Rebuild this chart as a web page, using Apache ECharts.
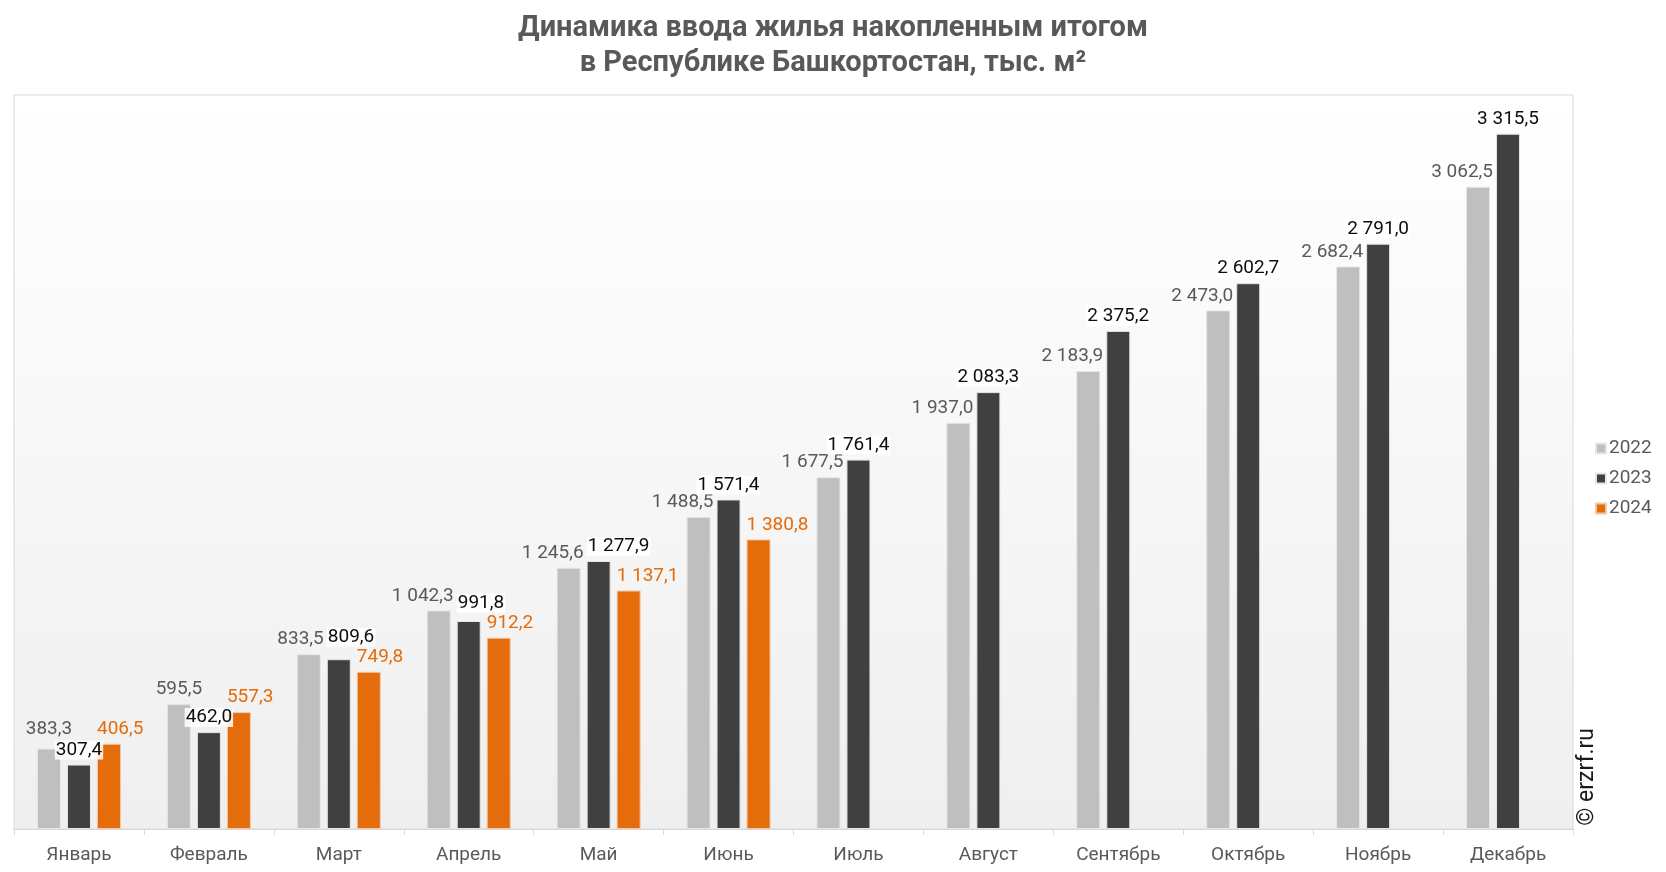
<!DOCTYPE html>
<html>
<head>
<meta charset="utf-8">
<script src="https://cdn.jsdelivr.net/npm/echarts@6/dist/echarts.min.js"></script>
<style>
  html, body { margin: 0; padding: 0; background: #fff; }
  #chart { width: 1666px; height: 872px; }
</style>
</head>
<body>
<div id="chart"></div>
<script>
// месяцы
var months = ['Январь', 'Февраль', 'Март', 'Апрель', 'Май', 'Июнь', 'Июль', 'Август', 'Сентябрь', 'Октябрь', 'Ноябрь', 'Декабрь']
// ввод жилья накопленным итогом, тыс. м²
var y2022 = [383.3, 595.5, 833.5, 1042.3, 1245.6, 1488.5, 1677.5, 1937.0, 2183.9, 2473.0, 2682.4, 3062.5]
var y2023 = [307.4, 462.0, 809.6, 991.8, 1277.9, 1571.4, 1761.4, 2083.3, 2375.2, 2602.7, 2791.0, 3315.5]
var y2024 = [406.5, 557.3, 749.8, 912.2, 1137.1, 1380.8, null, null, null, null, null, null]

var BAR = 24, GAP = 6, DIST = 5

function fmt(v) {
  var s = v.toFixed(1).split('.')
  return s[0].replace(/\B(?=(\d{3})+(?!\d))/g, ' ') + ',' + s[1]
}

var ctx = document.createElement('canvas').getContext('2d')
ctx.font = '19px Roboto'
function textW(v) { return ctx.measureText(fmt(v)).width }

// где стоит подпись 2022: короткие по центру, остальные прижаты к правому краю столбца
function box22(i, bx, base, k, h) {
  var top22 = base - y2022[i] * k
  var top23 = base - y2023[i] * k
  var b = top22 - DIST, t = b - h
  var b23 = top23 - DIST, t23 = b23 - h
  var vo = Math.min(b, b23) - Math.max(t, t23)
  var w = textW(y2022[i]), l
  if (fmt(y2022[i]).length <= 5 && vo < 6) {
    l = bx + BAR / 2 - w / 2
    if (vo > 0) { t -= vo + 2; b -= vo + 2 }
  } else {
    l = bx + BAR + 3 - w
  }
  return { l: l, r: l + w, t: t, b: b }
}

function layout2022(p) {
  var i = p.dataIndex, r = p.rect, lr = p.labelRect
  var box = box22(i, r.x, r.y + r.height, r.height / y2022[i], lr.height)
  return { dx: box.l - lr.x, dy: box.t - lr.y }
}

// подпись 2023 сдвигаем вправо / вверх, если она налезает на соседние подписи
function layout2023(p) {
  var i = p.dataIndex, r = p.rect, lr = p.labelRect
  var k = r.height / y2023[i]
  var base = r.y + r.height
  var h = lr.height
  var x0 = lr.x, x1 = lr.x + lr.width, yt = lr.y, yb = lr.y + lr.height
  var dx = 0, dy = 0
  var b22 = box22(i, r.x - GAP - BAR, base, k, h)
  if (x0 < b22.r && Math.min(yb, b22.b) - Math.max(yt, b22.t) > 3.5) dx = Math.max(r.x, b22.r + 1) - x0
  if (y2024[i] != null) {
    var top24 = base - y2024[i] * k
    var l24 = r.x + BAR + GAP - 1, b24 = top24 - DIST, t24 = b24 - h
    if (x1 + dx > l24 && yb > t24 && yt < b24) dy = t24 - 1 - yb
  }
  return { dx: dx, dy: dy }
}

var chart = echarts.init(document.getElementById('chart'))
chart.setOption({
  textStyle: { fontFamily: 'Roboto' },
  title: {
    text: 'Динамика ввода жилья накопленным итогом\nв Республике Башкортостан, тыс. м²',
    left: 'center',
    top: 6,
    textStyle: { fontSize: 29, fontWeight: 'bold', color: '#595959', lineHeight: 35 }
  },
  legend: {
    orient: 'vertical',
    left: 1590,
    top: 434,
    itemWidth: 10,
    itemHeight: 10,
    itemGap: 11,
    icon: 'rect',
    textStyle: { fontSize: 19, color: '#595959', padding: [0, 0, 0, -2] },
    data: ['2022', '2023', '2024']
  },
  grid: {
    left: 14, right: 93, top: 95, bottom: 43,
    show: true,
    borderColor: '#d9d9d9',
    borderWidth: 1,
    backgroundColor: new echarts.graphic.LinearGradient(0, 0, 0, 1, [
      { offset: 0, color: '#ffffff' },
      { offset: 1, color: '#efefef' }
    ])
  },
  xAxis: {
    type: 'category',
    data: months,
    axisLine: { lineStyle: { color: '#d9d9d9' } },
    axisTick: { show: true, length: 6, lineStyle: { color: '#d9d9d9' } },
    axisLabel: { fontSize: 19, color: '#595959', margin: 17 }
  },
  yAxis: {
    type: 'value',
    min: 0,
    max: 3500,
    show: false,
    splitLine: { show: false }
  },
  graphic: [{
    type: 'text',
    left: 1576,
    top: 728,
    rotation: Math.PI / 2,
    style: { text: '© erzrf.ru', fontSize: 23, fill: '#1a1a1a', fontFamily: 'Roboto' }
  }],
  series: [{
    name: '2022',
    type: 'bar',
    data: y2022,
    barWidth: BAR,
    barGap: '25%',
    itemStyle: { color: '#bfbfbf', borderColor: '#e6e6e6', borderWidth: 1 },
    label: {
      show: true, position: 'top', distance: DIST,
      fontSize: 19, color: '#595959',
      formatter: function (p) { return fmt(p.value) }
    },
    labelLayout: layout2022
  }, {
    name: '2023',
    type: 'bar',
    data: y2023,
    barWidth: BAR,
    barGap: '25%',
    itemStyle: { color: '#404040', borderColor: '#e6e6e6', borderWidth: 1 },
    label: {
      show: true, position: 'top', distance: DIST,
      fontSize: 19, color: '#0d0d0d',
      backgroundColor: 'rgba(255,255,255,0.85)', padding: [0, 1],
      formatter: function (p) { return fmt(p.value) }
    },
    labelLayout: layout2023
  }, {
    name: '2024',
    type: 'bar',
    data: y2024,
    barWidth: BAR,
    barGap: '25%',
    itemStyle: { color: '#e46c0a', borderColor: '#f0c8a8', borderWidth: 1 },
    label: {
      show: true, position: 'top', distance: DIST, align: 'left', offset: [-12, 0],
      fontSize: 19, color: '#e46c0a',
      formatter: function (p) { return p.value == null ? '' : fmt(p.value) }
    }
  }]
})
</script>
</body>
</html>
